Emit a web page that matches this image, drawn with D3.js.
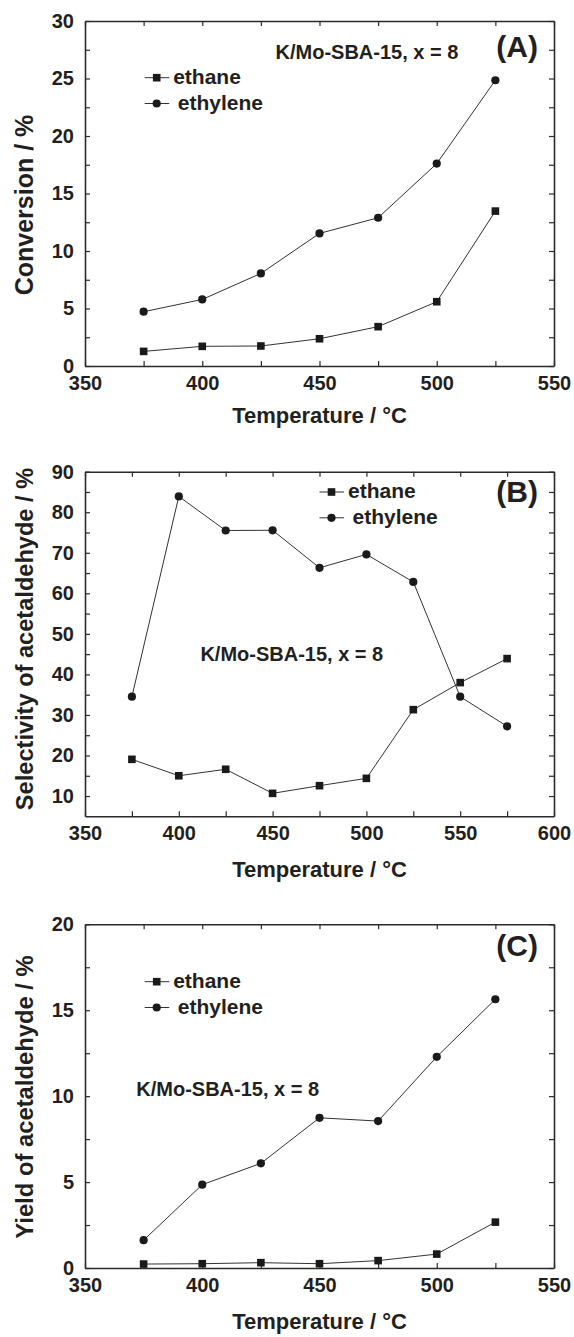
<!DOCTYPE html>
<html lang="en">
<head>
<meta charset="UTF-8">
<title>K/Mo-SBA-15: conversion, selectivity and yield</title>
<script src="https://d3js.org/d3.v7.min.js"></script>
<style>
  body { margin: 0; background: #fff; }
  svg { display: block; font-family: "Liberation Sans", Arial, sans-serif; font-weight: bold; }
  .axis path, .axis line { stroke: #2b2b2b; }
  .axis path { stroke-width: 1.6; }
  .axis line { stroke-width: 1.2; }
  .axis text { font-family: "Liberation Sans", Arial, sans-serif; font-size: 20px; font-weight: bold; fill: #231f20; }
</style>
</head>
<body>
<div id="chart"></div>
<script>
// temperatures / °C
const tempsAC = [375, 400, 425, 450, 475, 500, 525];
const tempsB = [375, 400, 425, 450, 475, 500, 525, 550, 575];

// (A) conversion / %
const convEthane = [1.27, 1.71, 1.74, 2.37, 3.42, 5.59, 13.47];
const convEthylene = [4.72, 5.79, 8.05, 11.53, 12.89, 17.6, 24.85];

// (B) selectivity of acetaldehyde / %
const selEthane = [19.05, 15.0, 16.6, 10.66, 12.55, 14.36, 31.3, 37.98, 43.9];
const selEthylene = [34.5, 83.9, 75.5, 75.55, 66.3, 69.6, 62.8, 34.5, 27.2];

// (C) yield of acetaldehyde / %
const yieldEthane = [0.23, 0.25, 0.31, 0.25, 0.43, 0.81, 2.67];
const yieldEthylene = [1.62, 4.85, 6.09, 8.74, 8.55, 12.29, 15.64];

const seriesNames = ["ethane", "ethylene"];
const xTicksAC = [350, 400, 450, 500, 550];
const xTicksB = [350, 400, 450, 500, 550, 600];
const yTicksA = [0, 5, 10, 15, 20, 25, 30];
const yTicksB = [10, 20, 30, 40, 50, 60, 70, 80, 90];
const yTicksC = [0, 5, 10, 15, 20];
const note = "K/Mo-SBA-15, x = 8";

const W = 574, H = 1337;
const left = 85, right = 554;
const ink = "#231f20";

const svg = d3.select("#chart").append("svg")
    .attr("width", W)
    .attr("height", H)
    .attr("viewBox", `0 0 ${W} ${H}`);

svg.append("rect").attr("width", W).attr("height", H).attr("fill", "#fff");

// major ticks plus the half steps between them
function withMinor(ticks) {
    const out = [];
    ticks.forEach((t, i) => {
        out.push(t);
        if (i < ticks.length - 1) out.push((t + ticks[i + 1]) / 2);
    });
    return out;
}

function drawPanel(p) {
    const x = d3.scaleLinear().domain([p.xTicks[0], p.xTicks[p.xTicks.length - 1]]).range([left, right]);
    const y = d3.scaleLinear().domain(p.yDomain).range([p.bottom, p.top]);
    const g = svg.append("g");

    const xAll = withMinor(p.xTicks);
    const yAll = withMinor(p.yTicks).filter(v => v >= p.yDomain[0] && v <= p.yDomain[1]);

    g.append("g").attr("class", "axis")
        .attr("transform", `translate(0,${p.bottom})`)
        .call(d3.axisBottom(x).tickValues(xAll).tickSize(-5).tickSizeOuter(0).tickPadding(10)
            .tickFormat(d => p.xTicks.includes(d) ? d : ""));
    g.append("g").attr("class", "axis")
        .attr("transform", `translate(0,${p.top})`)
        .call(d3.axisTop(x).tickValues(xAll).tickSize(-5).tickSizeOuter(0).tickFormat(""));
    g.append("g").attr("class", "axis")
        .attr("transform", `translate(${left},0)`)
        .call(d3.axisLeft(y).tickValues(yAll).tickSize(-5).tickSizeOuter(0).tickPadding(11)
            .tickFormat(d => p.yTicks.includes(d) ? d : ""));
    g.append("g").attr("class", "axis")
        .attr("transform", `translate(${right},0)`)
        .call(d3.axisRight(y).tickValues(yAll).tickSize(-5).tickSizeOuter(0).tickFormat(""));

    // axis titles
    g.append("text")
        .attr("x", (left + right) / 2)
        .attr("y", p.bottom + p.xTitleGap)
        .attr("text-anchor", "middle")
        .attr("font-size", 22)
        .attr("fill", ink)
        .text("Temperature / °C");
    g.append("text")
        .attr("transform", `translate(33,${p.yTitleY}) rotate(-90)`)
        .attr("text-anchor", "middle")
        .attr("font-size", p.yTitleSize)
        .attr("fill", ink)
        .text(p.yTitle);

    // series
    const line = d3.line().x(d => x(d[0])).y(d => y(d[1]));
    p.series.forEach((s, i) => {
        const pts = p.temps.map((t, k) => [t, s[k]]);
        g.append("path")
            .datum(pts)
            .attr("fill", "none")
            .attr("stroke", "#333")
            .attr("stroke-width", 1)
            .attr("d", line);
        drawMarkers(g, pts.map(d => [x(d[0]), y(d[1])]), i);
    });

    // legend
    seriesNames.forEach((name, i) => {
        const ly = p.legend.y + i * 25.8;
        g.append("line")
            .attr("x1", p.legend.x).attr("x2", p.legend.x + 24.6)
            .attr("y1", ly).attr("y2", ly)
            .attr("stroke", "#333").attr("stroke-width", 1);
        drawMarkers(g, [[p.legend.x + 12, ly]], i);
        g.append("text")
            .attr("x", p.legend.x + 28.5 + i * 4.6)
            .attr("y", ly + 6)
            .attr("font-size", 21)
            .attr("fill", ink)
            .text(name);
    });

    // sample note and panel letter
    g.append("text")
        .attr("x", p.note.x).attr("y", p.note.y)
        .attr("font-size", 20)
        .attr("fill", ink)
        .text(note);
    g.append("text")
        .attr("x", 538).attr("y", p.letterY)
        .attr("text-anchor", "end")
        .attr("font-size", 30)
        .attr("fill", ink)
        .text(p.letter);
}

function drawMarkers(g, pts, kind) {
    if (kind === 0) {
        g.selectAll(null).data(pts).enter().append("rect")
            .attr("x", d => d[0] - 3.8).attr("y", d => d[1] - 3.8)
            .attr("width", 7.6).attr("height", 7.6)
            .attr("fill", "#1a1a1a");
    } else {
        g.selectAll(null).data(pts).enter().append("circle")
            .attr("cx", d => d[0]).attr("cy", d => d[1])
            .attr("r", 4.1)
            .attr("fill", "#1a1a1a");
    }
}

drawPanel({
    top: 21, bottom: 366,
    xTicks: xTicksAC, yTicks: yTicksA, yDomain: [0, 30],
    temps: tempsAC, series: [convEthane, convEthylene],
    xTitleGap: 57,
    yTitle: "Conversion / %", yTitleY: 205, yTitleSize: 25,
    legend: { x: 144.7, y: 77.7 },
    note: { x: 275.5, y: 59.3 },
    letter: "(A)", letterY: 57
});

drawPanel({
    top: 471.7, bottom: 816.3,
    xTicks: xTicksB, yTicks: yTicksB, yDomain: [5, 90],
    temps: tempsB, series: [selEthane, selEthylene],
    xTitleGap: 61,
    yTitle: "Selectivity of acetaldehyde / %", yTitleY: 639, yTitleSize: 23.6,
    legend: { x: 319.5, y: 492 },
    note: { x: 200.4, y: 660.7 },
    letter: "(B)", letterY: 502
});

drawPanel({
    top: 924.3, bottom: 1268,
    xTicks: xTicksAC, yTicks: yTicksC, yDomain: [0, 20],
    temps: tempsAC, series: [yieldEthane, yieldEthylene],
    xTitleGap: 61,
    yTitle: "Yield of acetaldehyde / %", yTitleY: 1097, yTitleSize: 23.8,
    legend: { x: 144.7, y: 981.7 },
    note: { x: 136.3, y: 1096 },
    letter: "(C)", letterY: 956
});
</script>
</body>
</html>
